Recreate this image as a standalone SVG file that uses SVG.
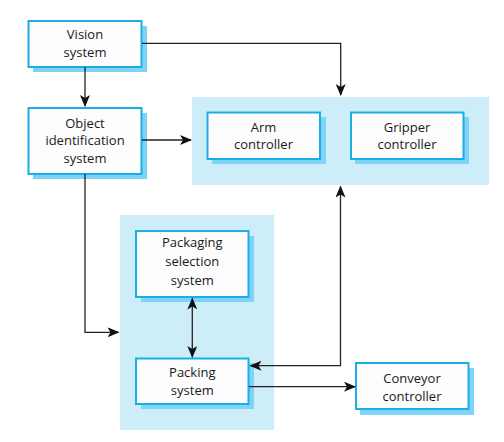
<svg xmlns="http://www.w3.org/2000/svg" width="504" height="442" viewBox="0 0 504 442">
<style>
.grp{fill:#cdeef9}
.sh{fill:#7fd4f6}
.bx{fill:#fdfdfd;stroke:#1aaee8;stroke-width:2}
.t{font-family:"Open Sans","Noto Sans",sans-serif;font-size:13px;fill:#1a1a1a;text-anchor:middle}
.c{fill:none;stroke:#222;stroke-width:1.3}
</style>
<defs>
<marker id="ah" viewBox="0 0 12 10" refX="11" refY="5" markerWidth="12" markerHeight="10" markerUnits="userSpaceOnUse" orient="auto-start-reverse">
<path d="M0,0 L12,5 L0,10 L3,5 Z" fill="#111"/>
</marker>
</defs>
<rect id="arm-group" class="grp" x="192" y="97" width="297" height="88"/>
<rect id="packing-group" class="grp" x="120" y="215" width="154" height="215"/>
<g id="vision">
<rect class="sh" x="33" y="26" width="114" height="46"/>
<rect class="bx" x="28.5" y="21" width="113" height="46"/>
<text class="t" x="85" y="39">Vision</text>
<text class="t" x="85" y="57">system</text>
</g>
<g id="object">
<rect class="sh" x="33" y="113" width="114" height="66"/>
<rect class="bx" x="28.5" y="108" width="113" height="66"/>
<text class="t" x="85" y="127.5">Object</text>
<text class="t" x="85" y="145">identification</text>
<text class="t" x="85" y="162.5">system</text>
</g>
<g id="arm">
<rect class="sh" x="212" y="117" width="114" height="47"/>
<rect class="bx" x="207.5" y="112.5" width="112.5" height="46.5"/>
<text class="t" x="263.5" y="131.5">Arm</text>
<text class="t" x="263.5" y="149">controller</text>
</g>
<g id="gripper">
<rect class="sh" x="355" y="117" width="114" height="47"/>
<rect class="bx" x="351" y="112.5" width="112.5" height="46.5"/>
<text class="t" x="407" y="131.5">Gripper</text>
<text class="t" x="407" y="149">controller</text>
</g>
<g id="packaging">
<rect class="sh" x="141" y="236" width="113" height="66"/>
<rect class="bx" x="136" y="231" width="112.5" height="66"/>
<text class="t" x="192.3" y="246.5">Packaging</text>
<text class="t" x="192.3" y="265.5">selection</text>
<text class="t" x="192.3" y="284.5">system</text>
</g>
<g id="packing">
<rect class="sh" x="141" y="363" width="113" height="46"/>
<rect class="bx" x="136" y="358.5" width="112.5" height="45.5"/>
<text class="t" x="192.3" y="377">Packing</text>
<text class="t" x="192.3" y="395">system</text>
</g>
<g id="conveyor">
<rect class="sh" x="360" y="368" width="114" height="47"/>
<rect class="bx" x="356" y="363" width="112.5" height="46"/>
<text class="t" x="412" y="382.5">Conveyor</text>
<text class="t" x="412" y="400.5">controller</text>
</g>
<g id="connectors">
<path class="c" d="M85,67 V106" marker-end="url(#ah)"/>
<path class="c" d="M142,43.3 H340.7 V95" marker-end="url(#ah)"/>
<path class="c" d="M142,140 H191" marker-end="url(#ah)"/>
<path class="c" d="M85,174 V332.3 H118.5" marker-end="url(#ah)"/>
<path class="c" d="M192.3,298.5 V357" marker-start="url(#ah)" marker-end="url(#ah)"/>
<path class="c" d="M340.5,186.5 V365.7 H250.5" marker-start="url(#ah)" marker-end="url(#ah)"/>
<path class="c" d="M249,386.7 H355" marker-end="url(#ah)"/>
</g>
</svg>
